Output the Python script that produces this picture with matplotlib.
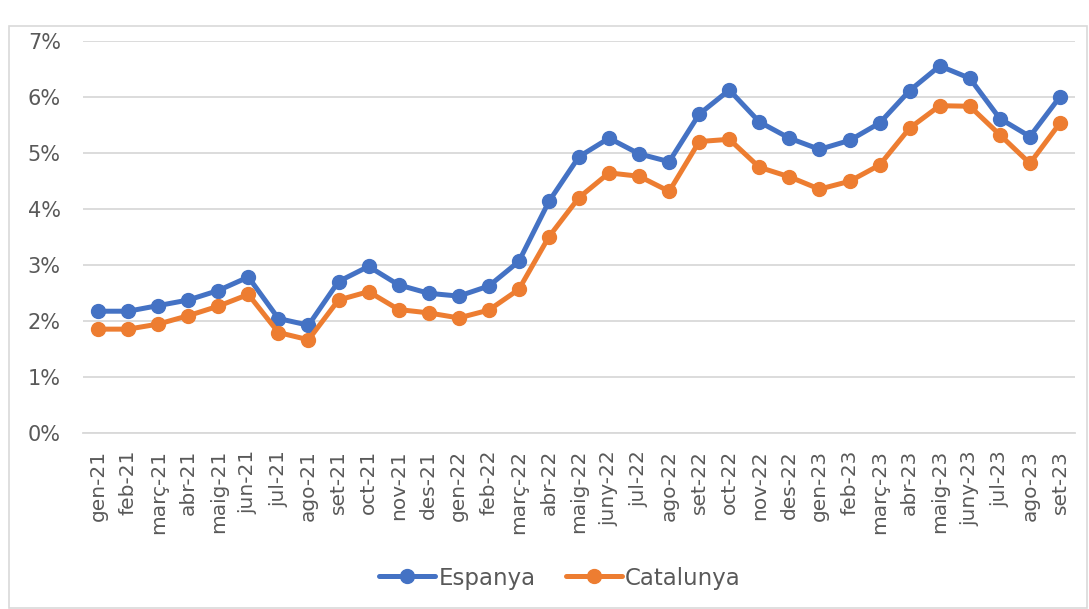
import matplotlib
matplotlib.use("Agg")
import matplotlib.pyplot as plt
from matplotlib.patches import Rectangle
from matplotlib.ticker import FuncFormatter, MultipleLocator

months = ["gen-21", "feb-21", "març-21", "abr-21", "maig-21", "jun-21", "jul-21",
          "ago-21", "set-21", "oct-21", "nov-21", "des-21",
          "gen-22", "feb-22", "març-22", "abr-22", "maig-22", "juny-22", "jul-22",
          "ago-22", "set-22", "oct-22", "nov-22", "des-22",
          "gen-23", "feb-23", "març-23", "abr-23", "maig-23", "juny-23", "jul-23",
          "ago-23", "set-23"]

espanya = [2.18, 2.18, 2.28, 2.38, 2.55, 2.79, 2.05, 1.93, 2.71, 2.98, 2.65, 2.50,
           2.45, 2.63, 3.07, 4.14, 4.94, 5.27, 4.99, 4.85, 5.70, 6.13, 5.56, 5.27,
           5.07, 5.23, 5.54, 6.12, 6.56, 6.34, 5.62, 5.30, 6.01]

catalunya = [1.86, 1.86, 1.95, 2.10, 2.27, 2.48, 1.80, 1.67, 2.38, 2.53, 2.21, 2.15,
             2.06, 2.20, 2.57, 3.51, 4.21, 4.65, 4.59, 4.32, 5.21, 5.25, 4.75, 4.58,
             4.36, 4.50, 4.79, 5.45, 5.85, 5.84, 5.33, 4.82, 5.54]

series_names = ["Espanya", "Catalunya"]
colors = ["#4472C4", "#ED7D31"]
text_color = "#595959"
grid_color = "#D9D9D9"

W, H, DPI = 1089, 609, 100
fig = plt.figure(figsize=(W / DPI, H / DPI), dpi=DPI)
fig.patch.set_facecolor("white")

# light chart frame
fig.add_artist(Rectangle((9 / W, 1 / H), (1087 - 9) / W, (H - 26 - 1) / H,
                         transform=fig.transFigure, fill=False,
                         edgecolor=grid_color, linewidth=1.2))

ax = fig.add_axes([83 / W, 1 - 433.3 / H, 992 / W, 392 / H])
x = list(range(len(months)))

for vals, name, c in zip([espanya, catalunya], series_names, colors):
    ax.plot(x, vals, color=c, linewidth=3.6, marker="o", markersize=10,
            label=name, solid_capstyle="round", solid_joinstyle="round",
            zorder=3)

ax.set_xlim(-0.5, len(months) - 0.5)
ax.set_ylim(0, 7)
ax.yaxis.set_major_locator(MultipleLocator(1))
ax.yaxis.set_major_formatter(FuncFormatter(lambda v, p: f"{v:.0f}%"))
ax.grid(axis="y", color=grid_color, linewidth=1.3)
ax.set_axisbelow(True)

for s in ["top", "right", "left"]:
    ax.spines[s].set_visible(False)
ax.spines["bottom"].set_color(grid_color)
ax.spines["bottom"].set_linewidth(1.3)

ax.set_xticks(x)
ax.set_xticklabels(months, rotation=90, fontsize=14.5, color=text_color)
ax.tick_params(axis="x", length=0, pad=12)
ax.tick_params(axis="y", length=0, pad=16, labelsize=15, labelcolor=text_color)

leg = fig.legend(loc="center", bbox_to_anchor=(560 / W, 1 - 578 / H), ncol=2,
                 frameon=False, fontsize=16.5, handlelength=2.45,
                 handletextpad=0.15, columnspacing=1.3)
for t in leg.get_texts():
    t.set_color(text_color)

fig.savefig("out.png", dpi=DPI, facecolor="white")
